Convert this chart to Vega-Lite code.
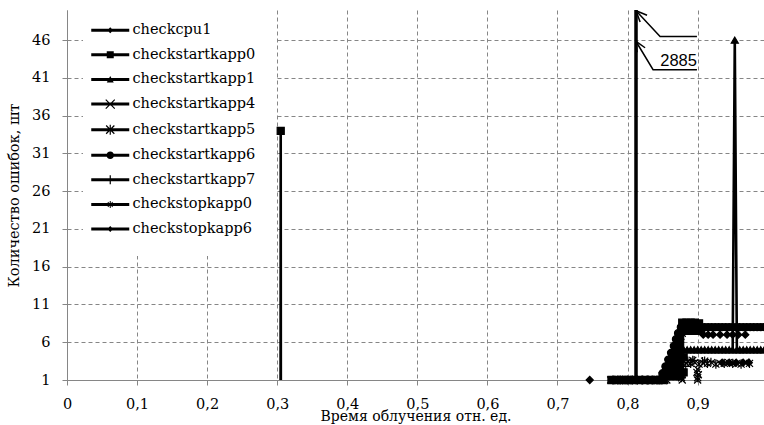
{
  "$schema": "https://vega.github.io/schema/vega-lite/v6.json",
  "width": 697,
  "height": 370,
  "autosize": {"type": "none"},
  "padding": {"left": 67, "top": 10, "right": 0, "bottom": 45},
  "background": "white",
  "config": {
    "font": "DejaVu Serif",
    "view": {"stroke": null},
    "axis": {
      "labelFont": "DejaVu Serif", "labelFontSize": 14.5, "labelColor": "black",
      "titleFont": "DejaVu Serif", "titleFontSize": 14, "titleColor": "black", "titleFontWeight": "normal",
      "domainColor": "#868686", "tickColor": "#868686", "tickSize": 5,
      "gridColor": "#868686", "gridDash": [4, 3], "gridWidth": 1
    }
  },
  "datasets": {
    "pts": [
      {"s":"checkcpu1","x":0.746,"y":1},
      {"s":"checkcpu1","x":0.79,"y":1},
      {"s":"checkcpu1","x":0.83,"y":1},
      {"s":"checkcpu1","x":0.908,"y":7},
      {"s":"checkcpu1","x":0.915,"y":7},
      {"s":"checkcpu1","x":0.922,"y":7},
      {"s":"checkcpu1","x":0.932,"y":7},
      {"s":"checkcpu1","x":0.942,"y":7},
      {"s":"checkcpu1","x":0.95,"y":7},
      {"s":"checkcpu1","x":0.958,"y":7},
      {"s":"checkcpu1","x":0.968,"y":7},

      {"s":"checkstartkapp0","x":0.3048,"y":0,"g":"a"},
      {"s":"checkstartkapp0","x":0.305,"y":34,"g":"a"},
      {"s":"checkstartkapp0","x":0.3052,"y":0,"g":"a"},
      {"s":"checkstartkapp0","x":0.777,"y":1,"g":"b"},
      {"s":"checkstartkapp0","x":0.785,"y":1,"g":"b"},
      {"s":"checkstartkapp0","x":0.793,"y":1,"g":"b"},
      {"s":"checkstartkapp0","x":0.801,"y":1,"g":"b"},
      {"s":"checkstartkapp0","x":0.809,"y":1,"g":"b"},
      {"s":"checkstartkapp0","x":0.817,"y":1,"g":"b"},
      {"s":"checkstartkapp0","x":0.825,"y":1,"g":"b"},
      {"s":"checkstartkapp0","x":0.833,"y":1,"g":"b"},
      {"s":"checkstartkapp0","x":0.841,"y":1,"g":"b"},
      {"s":"checkstartkapp0","x":0.849,"y":1,"g":"b"},
      {"s":"checkstartkapp0","x":0.85,"y":1.5},
      {"s":"checkstartkapp0","x":0.855,"y":1.5},
      {"s":"checkstartkapp0","x":0.855,"y":2.5},
      {"s":"checkstartkapp0","x":0.86,"y":1.5},
      {"s":"checkstartkapp0","x":0.86,"y":2.5},
      {"s":"checkstartkapp0","x":0.86,"y":3.5},
      {"s":"checkstartkapp0","x":0.865,"y":1.5},
      {"s":"checkstartkapp0","x":0.865,"y":2.5},
      {"s":"checkstartkapp0","x":0.865,"y":3.5},
      {"s":"checkstartkapp0","x":0.865,"y":4.5},
      {"s":"checkstartkapp0","x":0.87,"y":1.5},
      {"s":"checkstartkapp0","x":0.87,"y":2.5},
      {"s":"checkstartkapp0","x":0.87,"y":3.5},
      {"s":"checkstartkapp0","x":0.87,"y":4.5},
      {"s":"checkstartkapp0","x":0.87,"y":5.5},
      {"s":"checkstartkapp0","x":0.875,"y":1.5},
      {"s":"checkstartkapp0","x":0.875,"y":2.5},
      {"s":"checkstartkapp0","x":0.875,"y":3.5},
      {"s":"checkstartkapp0","x":0.875,"y":4.5},
      {"s":"checkstartkapp0","x":0.875,"y":5.5},
      {"s":"checkstartkapp0","x":0.875,"y":6.5},
      {"s":"checkstartkapp0","x":0.88,"y":2},
      {"s":"checkstartkapp0","x":0.88,"y":4},
      {"s":"checkstartkapp0","x":0.878,"y":8.6},
      {"s":"checkstartkapp0","x":0.884,"y":8.6},
      {"s":"checkstartkapp0","x":0.89,"y":8.6},
      {"s":"checkstartkapp0","x":0.896,"y":8.6},
      {"s":"checkstartkapp0","x":0.902,"y":8.5},
      {"s":"checkstartkapp0","x":0.878,"y":7.5},
      {"s":"checkstartkapp0","x":0.885,"y":7.5},
      {"s":"checkstartkapp0","x":0.892,"y":7.5},
      {"s":"checkstartkapp0","x":0.899,"y":7.5},
      {"s":"checkstartkapp0","x":0.905,"y":7.6},

      {"s":"checkstartkapp1","x":0.852,"y":1,"g":"c"},
      {"s":"checkstartkapp1","x":0.857,"y":2,"g":"c"},
      {"s":"checkstartkapp1","x":0.862,"y":3,"g":"c"},
      {"s":"checkstartkapp1","x":0.866,"y":4,"g":"c"},
      {"s":"checkstartkapp1","x":0.87,"y":5,"g":"c"},
      {"s":"checkstartkapp1","x":0.875,"y":5,"g":"c"},
      {"s":"checkstartkapp1","x":0.88,"y":5,"g":"c"},
      {"s":"checkstartkapp1","x":0.885,"y":5,"g":"c"},
      {"s":"checkstartkapp1","x":0.89,"y":5,"g":"c"},
      {"s":"checkstartkapp1","x":0.895,"y":5,"g":"c"},
      {"s":"checkstartkapp1","x":0.9,"y":5,"g":"c"},
      {"s":"checkstartkapp1","x":0.905,"y":5,"g":"c"},
      {"s":"checkstartkapp1","x":0.91,"y":5,"g":"c"},
      {"s":"checkstartkapp1","x":0.915,"y":5,"g":"c"},
      {"s":"checkstartkapp1","x":0.92,"y":5,"g":"c"},
      {"s":"checkstartkapp1","x":0.925,"y":5,"g":"c"},
      {"s":"checkstartkapp1","x":0.93,"y":5,"g":"c"},
      {"s":"checkstartkapp1","x":0.935,"y":5,"g":"c"},
      {"s":"checkstartkapp1","x":0.94,"y":5,"g":"c"},
      {"s":"checkstartkapp1","x":0.945,"y":5,"g":"c"},
      {"s":"checkstartkapp1","x":0.95,"y":5,"g":"c"},
      {"s":"checkstartkapp1","x":0.953,"y":46,"g":"c"},
      {"s":"checkstartkapp1","x":0.956,"y":5,"g":"c"},
      {"s":"checkstartkapp1","x":0.96,"y":5,"g":"c"},
      {"s":"checkstartkapp1","x":0.965,"y":5,"g":"c"},
      {"s":"checkstartkapp1","x":0.97,"y":5,"g":"c"},
      {"s":"checkstartkapp1","x":0.975,"y":5,"g":"c"},
      {"s":"checkstartkapp1","x":0.98,"y":5,"g":"c"},
      {"s":"checkstartkapp1","x":0.985,"y":5,"g":"c"},
      {"s":"checkstartkapp1","x":0.99,"y":5,"g":"c"},
      {"s":"checkstartkapp1","x":0.995,"y":5,"g":"c"},

      {"s":"checkstartkapp4","x":0.8117,"y":0,"g":"d"},
      {"s":"checkstartkapp4","x":0.812,"y":2885,"g":"d"},
      {"s":"checkstartkapp4","x":0.8123,"y":0,"g":"d"},
      {"s":"checkstartkapp4","x":0.776,"y":1},
      {"s":"checkstartkapp4","x":0.783,"y":1},
      {"s":"checkstartkapp4","x":0.79,"y":1},
      {"s":"checkstartkapp4","x":0.797,"y":1},
      {"s":"checkstartkapp4","x":0.804,"y":1},
      {"s":"checkstartkapp4","x":0.811,"y":1},
      {"s":"checkstartkapp4","x":0.818,"y":1},
      {"s":"checkstartkapp4","x":0.825,"y":1},
      {"s":"checkstartkapp4","x":0.832,"y":1},
      {"s":"checkstartkapp4","x":0.839,"y":1},
      {"s":"checkstartkapp4","x":0.846,"y":1},
      {"s":"checkstartkapp4","x":0.853,"y":1},
      {"s":"checkstartkapp4","x":0.85,"y":1.6},
      {"s":"checkstartkapp4","x":0.855,"y":2.4},
      {"s":"checkstartkapp4","x":0.864,"y":3.4},
      {"s":"checkstartkapp4","x":0.868,"y":4.4},
      {"s":"checkstartkapp4","x":0.872,"y":5.6},
      {"s":"checkstartkapp4","x":0.876,"y":6.8},
      {"s":"checkstartkapp4","x":0.884,"y":3.2},
      {"s":"checkstartkapp4","x":0.896,"y":3.3},
      {"s":"checkstartkapp4","x":0.908,"y":3.2},
      {"s":"checkstartkapp4","x":0.92,"y":3.3},
      {"s":"checkstartkapp4","x":0.932,"y":3.2},
      {"s":"checkstartkapp4","x":0.944,"y":3.3},
      {"s":"checkstartkapp4","x":0.956,"y":3.2},
      {"s":"checkstartkapp4","x":0.968,"y":3.3},
      {"s":"checkstartkapp4","x":0.878,"y":1},
      {"s":"checkstartkapp4","x":0.878,"y":1.7},
      {"s":"checkstartkapp4","x":0.9,"y":1},
      {"s":"checkstartkapp4","x":0.901,"y":1.7},
      {"s":"checkstartkapp4","x":0.9,"y":2.4},

      {"s":"checkstartkapp5","x":0.8118,"y":0,"g":"e"},
      {"s":"checkstartkapp5","x":0.8121,"y":2885,"g":"e"},
      {"s":"checkstartkapp5","x":0.8124,"y":0,"g":"e"},
      {"s":"checkstartkapp5","x":0.779,"y":1},
      {"s":"checkstartkapp5","x":0.786,"y":1},
      {"s":"checkstartkapp5","x":0.793,"y":1},
      {"s":"checkstartkapp5","x":0.8,"y":1},
      {"s":"checkstartkapp5","x":0.807,"y":1},
      {"s":"checkstartkapp5","x":0.814,"y":1},
      {"s":"checkstartkapp5","x":0.821,"y":1},
      {"s":"checkstartkapp5","x":0.828,"y":1},
      {"s":"checkstartkapp5","x":0.835,"y":1},
      {"s":"checkstartkapp5","x":0.842,"y":1},
      {"s":"checkstartkapp5","x":0.849,"y":1},
      {"s":"checkstartkapp5","x":0.856,"y":1},
      {"s":"checkstartkapp5","x":0.853,"y":1.5},
      {"s":"checkstartkapp5","x":0.858,"y":2.5},
      {"s":"checkstartkapp5","x":0.866,"y":4},
      {"s":"checkstartkapp5","x":0.87,"y":4.8},
      {"s":"checkstartkapp5","x":0.874,"y":6},
      {"s":"checkstartkapp5","x":0.878,"y":7.2},
      {"s":"checkstartkapp5","x":0.89,"y":3.2},
      {"s":"checkstartkapp5","x":0.902,"y":3.1},
      {"s":"checkstartkapp5","x":0.914,"y":3.2},
      {"s":"checkstartkapp5","x":0.926,"y":3.1},
      {"s":"checkstartkapp5","x":0.938,"y":3.2},
      {"s":"checkstartkapp5","x":0.95,"y":3.2},
      {"s":"checkstartkapp5","x":0.962,"y":3.1},
      {"s":"checkstartkapp5","x":0.974,"y":3.2},
      {"s":"checkstartkapp5","x":0.877,"y":1.3},
      {"s":"checkstartkapp5","x":0.877,"y":2},
      {"s":"checkstartkapp5","x":0.9,"y":1.3},
      {"s":"checkstartkapp5","x":0.899,"y":2},

      {"s":"checkstartkapp6","x":0.846,"y":1,"g":"f"},
      {"s":"checkstartkapp6","x":0.85,"y":1.9,"g":"f"},
      {"s":"checkstartkapp6","x":0.854,"y":2.8,"g":"f"},
      {"s":"checkstartkapp6","x":0.858,"y":3.7,"g":"f"},
      {"s":"checkstartkapp6","x":0.862,"y":4.6,"g":"f"},
      {"s":"checkstartkapp6","x":0.866,"y":5.5,"g":"f"},
      {"s":"checkstartkapp6","x":0.869,"y":6.4,"g":"f"},
      {"s":"checkstartkapp6","x":0.872,"y":7.2,"g":"f"},
      {"s":"checkstartkapp6","x":0.876,"y":8,"g":"f"},
      {"s":"checkstartkapp6","x":0.88,"y":8,"g":"f"},
      {"s":"checkstartkapp6","x":0.885,"y":8,"g":"f"},
      {"s":"checkstartkapp6","x":0.89,"y":8,"g":"f"},
      {"s":"checkstartkapp6","x":0.895,"y":8,"g":"f"},
      {"s":"checkstartkapp6","x":0.9,"y":8,"g":"f"},
      {"s":"checkstartkapp6","x":0.905,"y":8,"g":"f"},
      {"s":"checkstartkapp6","x":0.91,"y":8,"g":"f"},
      {"s":"checkstartkapp6","x":0.915,"y":8,"g":"f"},
      {"s":"checkstartkapp6","x":0.92,"y":8,"g":"f"},
      {"s":"checkstartkapp6","x":0.925,"y":8,"g":"f"},
      {"s":"checkstartkapp6","x":0.93,"y":8,"g":"f"},
      {"s":"checkstartkapp6","x":0.935,"y":8,"g":"f"},
      {"s":"checkstartkapp6","x":0.94,"y":8,"g":"f"},
      {"s":"checkstartkapp6","x":0.945,"y":8,"g":"f"},
      {"s":"checkstartkapp6","x":0.95,"y":8,"g":"f"},
      {"s":"checkstartkapp6","x":0.955,"y":8,"g":"f"},
      {"s":"checkstartkapp6","x":0.96,"y":8,"g":"f"},
      {"s":"checkstartkapp6","x":0.965,"y":8,"g":"f"},
      {"s":"checkstartkapp6","x":0.97,"y":8,"g":"f"},
      {"s":"checkstartkapp6","x":0.975,"y":8,"g":"f"},
      {"s":"checkstartkapp6","x":0.98,"y":8,"g":"f"},
      {"s":"checkstartkapp6","x":0.985,"y":8,"g":"f"},
      {"s":"checkstartkapp6","x":0.99,"y":8,"g":"f"},
      {"s":"checkstartkapp6","x":0.995,"y":8,"g":"f"},
      {"s":"checkstartkapp6","x":0.858,"y":1.5},
      {"s":"checkstartkapp6","x":0.862,"y":2.5},
      {"s":"checkstartkapp6","x":0.866,"y":2},
      {"s":"checkstartkapp6","x":0.87,"y":3.8},
      {"s":"checkstartkapp6","x":0.874,"y":5},
      {"s":"checkstartkapp6","x":0.874,"y":2.5},

      {"s":"checkstartkapp7","x":0.883,"y":2.8},
      {"s":"checkstartkapp7","x":0.895,"y":3.6},
      {"s":"checkstartkapp7","x":0.907,"y":3.5},
      {"s":"checkstartkapp7","x":0.919,"y":3.4},

      {"s":"checkstopkapp0","x":0.878,"y":3.6},
      {"s":"checkstopkapp0","x":0.886,"y":3.5},
      {"s":"checkstopkapp0","x":0.893,"y":3.6},
      {"s":"checkstopkapp0","x":0.91,"y":3.5},

      {"s":"checkstopkapp6","x":0.935,"y":3.3},
      {"s":"checkstopkapp6","x":0.945,"y":3.3},
      {"s":"checkstopkapp6","x":0.955,"y":3.3},
      {"s":"checkstopkapp6","x":0.965,"y":3.3},
      {"s":"checkstopkapp6","x":0.973,"y":3.3}
    ],
    "ann": [
      {"k":"a","o":1,"x":0.8121,"y":49.9},
      {"k":"a","o":2,"x":0.8464,"y":46.5},
      {"k":"a","o":3,"x":0.899,"y":46.5},
      {"k":"aw1","o":1,"x":0.8121,"y":49.9},
      {"k":"aw1","o":2,"x":0.8278,"y":49.3},
      {"k":"aw2","o":1,"x":0.8121,"y":49.9},
      {"k":"aw2","o":2,"x":0.8179,"y":48.4},
      {"k":"b","o":1,"x":0.8121,"y":45.83},
      {"k":"b","o":2,"x":0.8364,"y":42.1},
      {"k":"b","o":3,"x":0.899,"y":42.1},
      {"k":"bw1","o":1,"x":0.8121,"y":45.83},
      {"k":"bw1","o":2,"x":0.825,"y":45.0},
      {"k":"bw2","o":1,"x":0.8121,"y":45.83},
      {"k":"bw2","o":2,"x":0.8136,"y":44.4}
    ],
    "labels": [
      {"t":"2885","x":0.899,"y":42.6}
    ],
    "series": [
      {"s":"checkcpu1"},{"s":"checkstartkapp0"},{"s":"checkstartkapp1"},{"s":"checkstartkapp4"},
      {"s":"checkstartkapp5"},{"s":"checkstartkapp6"},{"s":"checkstartkapp7"},{"s":"checkstopkapp0"},{"s":"checkstopkapp6"}
    ]
  },
  "resolve": {"scale": {"shape": "independent"}, "legend": {"shape": "independent"}},
  "layer": [
    {
      "data": {"name": "pts"},
      "transform": [{"filter": "datum.g != null"}],
      "mark": {"type": "line", "clip": true, "color": "black", "strokeWidth": 2.6},
      "encoding": {
        "x": {"field": "x", "type": "quantitative",
              "scale": {"domain": [0, 0.9947], "nice": false, "zero": false},
              "axis": {"values": [0,0.1,0.2,0.3,0.4,0.5,0.6,0.7,0.8,0.9],
                       "labelExpr": "datum.value == 0 ? '0' : replace(format(datum.value, '.1f'), '.', ',')",
                       "labelPadding": 12, "labelFlush": false,
                       "title": "Время облучения отн. ед.", "titleY": 40, "titleBaseline": "alphabetic"}},
        "y": {"field": "y", "type": "quantitative",
              "scale": {"domain": [1, 50], "nice": false, "zero": false},
              "axis": {"values": [1,6,11,16,21,26,31,36,41,46], "labelPadding": 12,
                       "title": "Количество ошибок, шт", "titleFontSize": 14.5, "titleAngle": -90, "titleX": -53, "titleY": 185,
                       "titleAlign": "center", "titleBaseline": "middle"}},
        "detail": {"field": "g"}
      }
    },
    {
      "data": {"name": "pts"},
      "transform": [{"filter": "datum.y >= 1 && datum.y <= 50"}],
      "mark": {"type": "point", "filled": true, "color": "black", "stroke": "black", "strokeWidth": 1.2, "size": 50, "opacity": 1},
      "encoding": {
        "x": {"field": "x", "type": "quantitative"},
        "y": {"field": "y", "type": "quantitative"},
        "shape": {"field": "s", "type": "nominal", "legend": null,
                  "scale": {"domain": ["checkcpu1","checkstartkapp0","checkstartkapp1","checkstartkapp4","checkstartkapp5","checkstartkapp6","checkstartkapp7","checkstopkapp0","checkstopkapp6"],
                            "range": ["diamond","square","triangle-up","M-1,-1L1,1M-1,1L1,-1","M-1,-1L1,1M-1,1L1,-1M0,-1.3L0,1.3","circle","M0,-1.2L0,1.2M-1.2,0L1.2,0","M-1,-1L1,1M-1,1L1,-1M0,-1.3L0,1.3","diamond"]}}
      }
    },
    {
      "data": {"name": "ann"},
      "mark": {"type": "line", "color": "black", "strokeWidth": 1.5},
      "encoding": {
        "x": {"field": "x", "type": "quantitative"},
        "y": {"field": "y", "type": "quantitative"},
        "detail": {"field": "k"},
        "order": {"field": "o"}
      }
    },
    {
      "data": {"name": "labels"},
      "mark": {"type": "text", "font": "Liberation Sans", "fontSize": 16.5, "align": "right", "baseline": "alphabetic", "color": "black"},
      "encoding": {
        "x": {"field": "x", "type": "quantitative"},
        "y": {"field": "y", "type": "quantitative"},
        "text": {"field": "t"}
      }
    },
    {
      "data": {"name": "series"},
      "mark": {"type": "point", "opacity": 0, "filled": true, "color": "black"},
      "encoding": {
        "shape": {"field": "s", "type": "nominal",
                  "scale": {"domain": ["checkcpu1","checkstartkapp0","checkstartkapp1","checkstartkapp4","checkstartkapp5","checkstartkapp6","checkstartkapp7","checkstopkapp0","checkstopkapp6"],
                            "range": [
                              "M-3.8,-0.3H3.8V0.3H-3.8ZM0,-0.6L0.6,0L0,0.6L-0.6,0Z",
                              "M-3.8,-0.3H3.8V0.3H-3.8ZM-0.7,-0.7H0.7V0.7H-0.7Z",
                              "M-3.8,-0.3H3.8V0.3H-3.8ZM0,-0.7L0.7,0.6H-0.7Z",
                              "M-3.8,-0.3H3.8V0.3H-3.8ZM-0.815,-0.985L0.985,0.815L0.815,0.985L-0.985,-0.815ZM-0.985,0.815L0.815,-0.985L0.985,-0.815L-0.815,0.985Z",
                              "M-3.8,-0.3H3.8V0.3H-3.8ZM-0.735,-0.905L0.905,0.735L0.735,0.905L-0.905,-0.735ZM-0.905,0.735L0.735,-0.905L0.905,-0.735L-0.735,0.905ZM-0.12,-1H0.12V1H-0.12Z",
                              "M-3.8,-0.3H3.8V0.3H-3.8ZM-0.75,0A0.75,0.75,0,1,1,0.75,0A0.75,0.75,0,1,1,-0.75,0Z",
                              "M-3.8,-0.3H3.8V0.3H-3.8ZM-0.12,-0.9H0.12V0.9H-0.12Z",
                              "M-3.8,-0.3H3.8V0.3H-3.8ZM-0.44,-0.56L0.56,0.44L0.44,0.56L-0.56,-0.44ZM-0.56,0.44L0.44,-0.56L0.56,-0.44L-0.44,0.56ZM-0.1,-0.7H0.1V0.7H-0.1Z",
                              "M-3.8,-0.3H3.8V0.3H-3.8ZM0,-0.6L0.6,0L0,0.6L-0.6,0Z"
                            ]},
                  "legend": {"title": null, "orient": "none", "legendX": 16, "legendY": -7,
                             "fillColor": "white", "padding": 20,
                             "labelFont": "DejaVu Serif", "labelFontSize": 14.5, "labelColor": "black",
                             "labelOffset": 15, "rowPadding": 9.6,
                             "symbolSize": 100, "symbolOpacity": 1, "symbolFillColor": "black",
                             "symbolStrokeColor": "black", "symbolStrokeWidth": 1}}
      }
    }
  ]
}
